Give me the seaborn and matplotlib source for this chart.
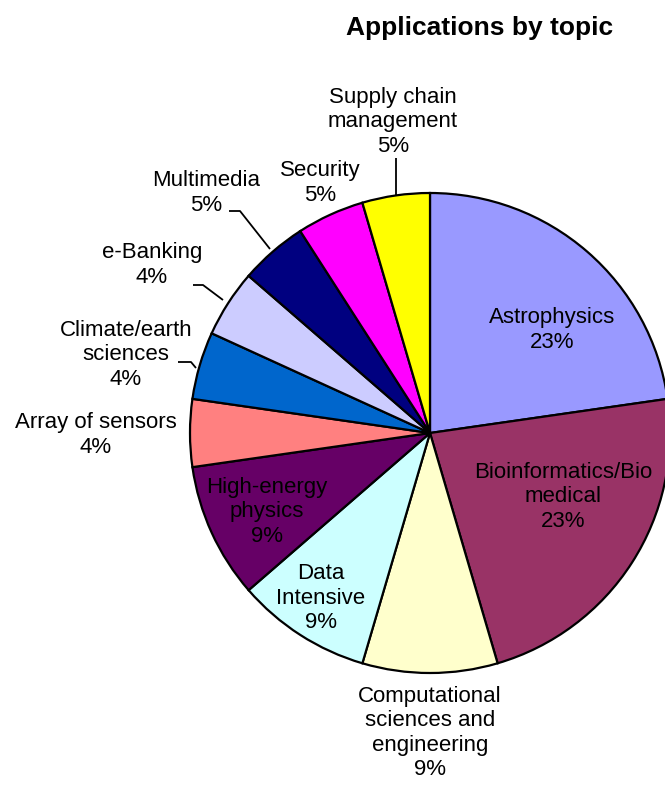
import numpy as np
import matplotlib
matplotlib.use("Agg")
import matplotlib.pyplot as plt
import seaborn as sns

# data
topics = ["Astrophysics", "Bioinformatics/Bio\nmedical", "Computational\nsciences and\nengineering",
          "Data\nIntensive", "High-energy\nphysics", "Array of sensors", "Climate/earth\nsciences",
          "e-Banking", "Multimedia", "Security", "Supply chain\nmanagement"]
counts = [5, 5, 2, 2, 2, 1, 1, 1, 1, 1, 1]
pct_labels = ["23%", "23%", "9%", "9%", "9%", "4%", "4%", "4%", "5%", "5%", "5%"]
colors = ["#9999FF", "#993366", "#FFFFCC", "#CCFFFF", "#660066", "#FF8080",
          "#0066CC", "#CCCCFF", "#000080", "#FF00FF", "#FFFF00"]

# layout (image pixel coords, y down)
W, H = 665, 786
center_img = (430, 433)
radius = 240
label_pos = [(552, 330), (563, 497), (430, 733), (321, 598), (267, 512), (96, 435),
             (126, 355), (152, 265), (206, 193), (320, 183), (393, 122)]
leaders = [None, None, None, None, None, None,
           [(196, 368), (191, 362), (178, 362)],
           [(223, 300), (203, 285), (193, 285)],
           [(270, 249), (240, 211), (229, 211)],
           None,
           [(396, 195), (396, 158)]]

sns.set_theme(style="white")
plt.rcParams["font.family"] = ["Liberation Sans", "DejaVu Sans"]
plt.rcParams["text.color"] = "black"

fig = plt.figure(figsize=(W / 100, H / 100), dpi=100)
ax = fig.add_axes([0, 0, 1, 1])

def to_data(p):
    return (p[0], H - p[1])

wedges, _ = ax.pie(counts, colors=colors, startangle=90, counterclock=False,
                   radius=radius, center=to_data(center_img), frame=True,
                   wedgeprops=dict(edgecolor="black", linewidth=1.6))

for i, (name, pct) in enumerate(zip(topics, pct_labels)):
    x, y = to_data(label_pos[i])
    ax.text(x, y, f"{name}\n{pct}", ha="center", va="center", fontsize=16,
            linespacing=1.2, color="black")
    if leaders[i] is not None:
        pts = [to_data(p) for p in leaders[i]]
        ax.plot([p[0] for p in pts], [p[1] for p in pts], color="black", lw=1.3,
                solid_capstyle="butt")

ax.text(480, H - 28, "Applications by topic", ha="center", va="center",
        fontsize=19, fontweight="bold", color="black")

ax.set_xlim(0, W)
ax.set_ylim(0, H)
ax.set_aspect("equal")
ax.axis("off")

fig.savefig("out.png", dpi=100, facecolor="white")
